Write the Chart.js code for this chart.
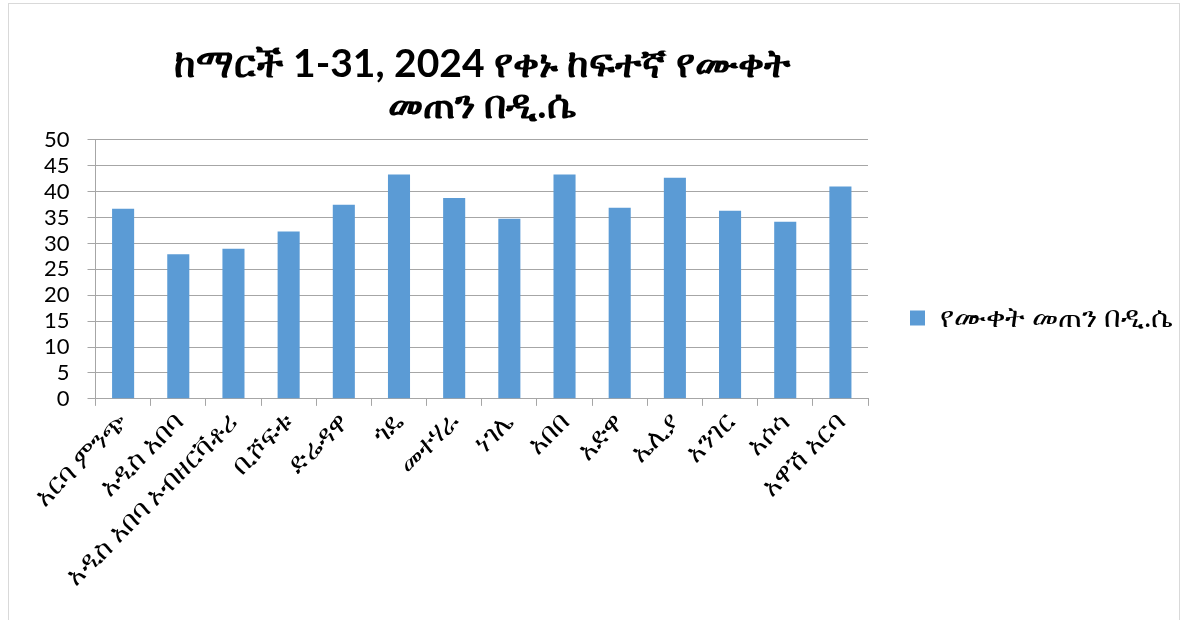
<!DOCTYPE html>
<html>
<head>
<meta charset="utf-8">
<script src="https://cdn.jsdelivr.net/npm/chart.js@4"></script>
<style>
  body { margin: 0; background: #fff; }
  #frame { position: absolute; left: 8px; top: 3px; width: 1172px; height: 640px; border: 1px solid #d9d9d9; box-sizing: border-box; }
  #chartCanvas { position: absolute; left: 0; top: 0; }
</style>
</head>
<body>
<div id="frame"></div>
<canvas id="chartCanvas" width="1185" height="620"></canvas>
<script>
// የጣቢያ ስሞች እና የቀኑ ከፍተኛ ሙቀት (ዲ.ሴ)
const stations = [
  "አርባ ምንጭ", "አዲስ አበባ", "አዲስ አበባ ኦብዘርቫቶሪ", "ቢሾፍቱ", "ድሬዳዋ", "ጎዴ", "መተሃራ",
  "ነገሌ", "አበበ", "አድዋ", "ኤሊያ", "አንገር", "አሶሳ", "አዋሽ አርባ"
];
const maxTemp = [36.7, 27.9, 29.0, 32.3, 37.5, 43.3, 38.8, 34.8, 43.3, 36.9, 42.7, 36.3, 34.2, 41.0];
const seriesName = "የሙቀት መጠን በዲ.ሴ";
const titleLines = ["ከማርች 1-31, 2024 የቀኑ ከፍተኛ የሙቀት", "መጠን በዲ.ሴ"];

const fontFamily = "Lato, 'Noto Sans', 'DejaVu Sans', sans-serif";
const gridColor = "#a6a6a6";
const legendWidth = 317; // chart.js caps side boxes at a quarter of the width, widen it

const wideLegend = {
  id: "wideLegend",
  beforeLayout(chart) {
    const legend = chart.legend;
    if (!legend || legend._wide) return;
    const fit = legend.fit;
    legend.fit = function () {
      fit.call(this);
      this.width = legendWidth;
    };
    legend._wide = true;
  }
};

const ctx = document.getElementById("chartCanvas").getContext("2d");
new Chart(ctx, {
  type: "bar",
  data: {
    labels: stations,
    datasets: [{
      label: seriesName,
      data: maxTemp,
      backgroundColor: "#5b9bd5",
      borderWidth: 0,
      categoryPercentage: 1,
      barPercentage: 0.4
    }]
  },
  plugins: [wideLegend],
  options: {
    responsive: false,
    animation: false,
    layout: { padding: { left: 26, right: 0, top: 44, bottom: 28 } },
    plugins: {
      title: {
        display: true,
        fullSize: false,
        text: titleLines,
        color: "#000",
        font: { family: fontFamily, size: 39, weight: "bold", lineHeight: 1.05 },
        padding: { top: 0, bottom: 14 }
      },
      legend: {
        position: "right",
        align: "center",
        labels: {
          color: "#000",
          font: { family: fontFamily, size: 29 },
          boxWidth: 15,
          boxHeight: 15,
          padding: 42
        }
      },
      tooltip: { enabled: false }
    },
    scales: {
      x: {
        offset: true,
        // rotated labels may run past the y axis, like in the original
        afterFit(scale) { scale.paddingLeft = 0; },
        grid: { display: true, drawOnChartArea: false, offset: true, color: gridColor, tickLength: 7 },
        border: { color: gridColor },
        ticks: {
          color: "#000",
          font: { family: fontFamily, size: 27 },
          minRotation: 45,
          maxRotation: 45,
          autoSkip: false,
          padding: 0
        }
      },
      y: {
        min: 0,
        max: 50,
        ticks: { stepSize: 5, autoSkip: false, color: "#000", font: { family: fontFamily, size: 22 }, padding: 18 },
        grid: { color: gridColor, tickLength: 8 },
        border: { color: gridColor }
      }
    }
  }
});
</script>
</body>
</html>
